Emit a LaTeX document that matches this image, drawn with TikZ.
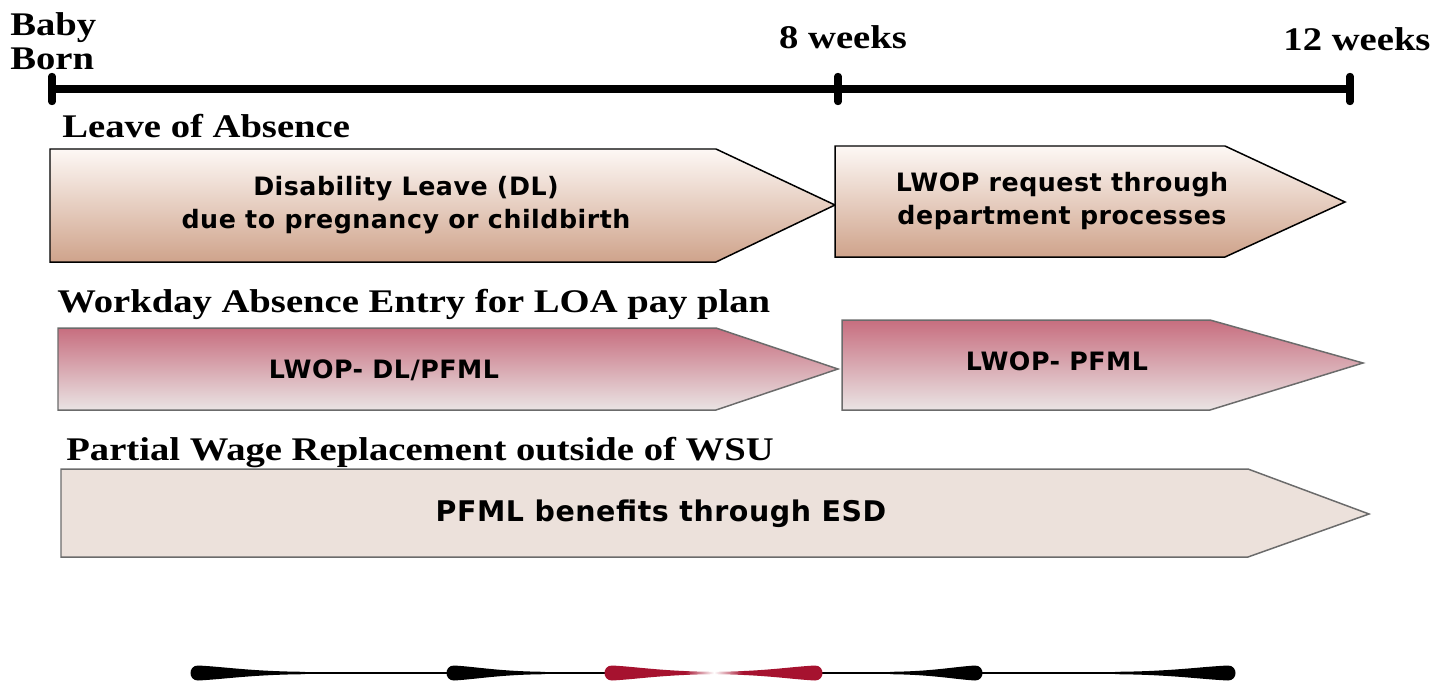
\documentclass[tikz,border=0pt]{standalone}
\usepackage{fontspec}
\setmainfont{Liberation Serif}[FakeStretch=1.17]
\newfontfamily\boxfont{DejaVu Sans}[LetterSpace=2]
\usetikzlibrary{positioning}

\definecolor{tanlight}{HTML}{FDF8F5}
\definecolor{tandark}{HTML}{CFA38B}
\definecolor{roselight}{HTML}{EAE4E4}
\definecolor{rosedark}{HTML}{C76E7F}
\definecolor{sand}{HTML}{ECE1DB}
\definecolor{crimson}{HTML}{A6122F}
\definecolor{edgegray}{HTML}{6B6B6B}

% rojo que se desvanece hacia el centro del adorno
\pgfdeclarehorizontalshading{redfade}{100bp}{color(0bp)=(crimson); color(25bp)=(crimson);
  color(62bp)=(crimson); color(75bp)=(white); color(100bp)=(white)}

\tikzset{
  heading/.style={anchor=base west, inner sep=0pt, font=\fontsize{18.8}{19.3}\selectfont\bfseries},
  weeklabel/.style={anchor=base, inner sep=0pt, font=\fontsize{18.8}{19.3}\selectfont\bfseries},
  boxtext/.style={align=center, inner sep=0pt, font=\boxfont\fontsize{14.4}{18.8}\selectfont\bfseries},
  tickline/.style={line width=4pt, line cap=round},
  tanbox/.style={draw=black, line width=0.85pt, top color=tanlight, bottom color=tandark},
  rosebox/.style={draw=edgegray, line width=0.85pt, top color=rosedark, bottom color=roselight},
  sandbox/.style={draw=edgegray, line width=0.85pt, fill=sand},
  blackend/.style={fill=black},
  redleft/.style={shade, shading=redfade},
  redright/.style={shade, shading=redfade, shading angle=180}
}

\begin{document}
\begin{tikzpicture}[x=0.02cm, y=-0.02cm]
  \useasboundingbox (0,0) rectangle (1455,683);

  % Linea de tiempo
  \coordinate (born) at (52,89);
  \coordinate (wk8) at (838,89);
  \coordinate (wk12) at (1350,89);
  \draw[line width=4.6pt] (born) -- (wk12);
  \foreach \t in {born,wk8,wk12}
    \draw[tickline] ([yshift=7.2pt]\t) -- ([yshift=-7.2pt]\t);

  % Etiquetas de la linea de tiempo
  \node[anchor=north west, align=left, inner sep=0pt,
        font=\fontsize{18.8}{19.3}\selectfont\bfseries] (baby) at (10,12) {Baby\\Born};
  \node[weeklabel] (eight) at (843,48) {8 weeks};
  \node[weeklabel] (twelve) at (1357,50) {12 weeks};

  % Fila 1: permiso
  \node[heading] (loa) at (62,137) {Leave of Absence};
  \draw[tanbox] (50,149) -- (716,149) -- (835,205) -- (716,262) -- (50,262) -- cycle;
  \draw[tanbox] (835,146) -- (1225,146) -- (1345,202) -- (1225,257) -- (835,257) -- cycle;
  \node[boxtext] (dl) at (406,205) {Disability Leave (DL)\\due to pregnancy or childbirth};
  \node[boxtext] (lwopreq) at (1062,201) {LWOP request through\\department processes};

  % Fila 2: Workday
  \node[heading] (workday) at (57,312) {Workday Absence Entry for LOA pay plan};
  \draw[rosebox] (58,328) -- (716,328) -- (838,369) -- (716,410) -- (58,410) -- cycle;
  \draw[rosebox] (842,320) -- (1210,320) -- (1363,363) -- (1210,410) -- (842,410) -- cycle;
  \node[boxtext] (dlpfml) at (384,370) {LWOP- DL/PFML};
  \node[boxtext] (pfml) at (1057,361) {LWOP- PFML};

  % Fila 3: ESD
  \node[heading] (wage) at (66,460) {Partial Wage Replacement outside of WSU};
  \draw[sandbox] (61,469) -- (1248,469) -- (1369,514) -- (1248,557) -- (61,557) -- cycle;
  \node[boxtext, font=\boxfont\fontsize{16.2}{19}\selectfont\bfseries] (esd) at (661,514)
    {PFML benefits through ESD};

  % Adorno inferior
  \draw[line width=1.4pt] (197,673) -- (612,673);
  \draw[line width=1.4pt] (815,673) -- (1228,673);
  \foreach \a/\b/\c in {198/305/blackend, 454/545/blackend, 612/714/redleft,
                        815/714/redright, 975/890/blackend, 1228/1115/blackend}
    \path[\c] (\a,665.5) .. controls ({\a+0.25*(\b-\a)},666.8) and ({\a+0.5*(\b-\a)},671.4) .. (\b,671.8)
      -- (\b,674.2) .. controls ({\a+0.5*(\b-\a)},674.6) and ({\a+0.25*(\b-\a)},679.2) .. (\a,680.5)
      .. controls ({\a-10*sign(\b-\a)},680.5) and ({\a-10*sign(\b-\a)},665.5) .. cycle;
\end{tikzpicture}
\end{document}
